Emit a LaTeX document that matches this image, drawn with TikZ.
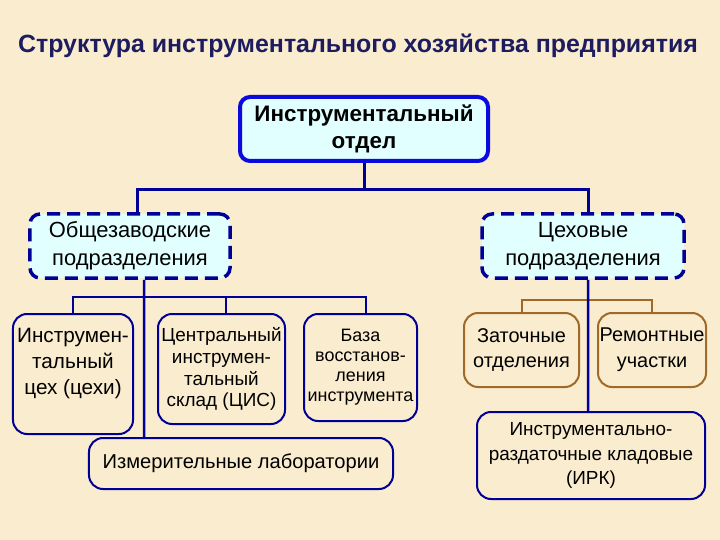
\documentclass[tikz,border=0pt]{standalone}
\usepackage{fontspec}
\setmainfont{Liberation Sans}
\usetikzlibrary{positioning,calc}
\definecolor{bgbeige}{RGB}{250,236,206}
\definecolor{boxcyan}{RGB}{226,255,255}
\definecolor{topblue}{RGB}{10,10,220}
\definecolor{navy}{RGB}{0,0,150}
\definecolor{titlenavy}{RGB}{28,28,95}
\definecolor{brownline}{RGB}{160,105,40}
\begin{document}
\begin{tikzpicture}[x=1bp,y=-1bp,
  topbox/.style={draw=topblue,line width=4bp,fill=boxcyan,rounded corners=10bp,inner sep=0pt,align=center,font=\bfseries\fontsize{22.5}{27}\selectfont},
  dashbox/.style={draw=navy,line width=3.5bp,dash pattern=on 13bp off 7bp,fill=boxcyan,rounded corners=10bp,inner sep=0pt,align=center,font=\fontsize{22}{28}\selectfont},
  unitbox/.style={draw=navy,line width=2bp,rounded corners=14bp,inner sep=0pt,align=center,font=\fontsize{19}{25}\selectfont},
  shopbox/.style={unitbox,draw=brownline,font=\fontsize{20}{26}\selectfont},
  link/.style={draw=navy,line width=2.5bp},
  shoplink/.style={draw=brownline,line width=2bp}
]
  \fill[bgbeige] (0,0) rectangle (720,540);
  \node[text=titlenavy,font=\bfseries\fontsize{25}{30}\selectfont] (title) at (358,46) {Структура инструментального хозяйства предприятия};
  % top level
  \node[topbox,minimum width=248bp,minimum height=64bp] (instdept) at (364,129) {Инструментальный\\отдел};
  \node[dashbox,minimum width=200bp,minimum height=64bp] (plantwide) at (130,246) {Общезаводские\\подразделения};
  \node[dashbox,minimum width=202bp,minimum height=64bp] (shopwide) at (583,246) {Цеховые\\подразделения};
  % plant-wide units
  \node[unitbox,minimum width=120bp,minimum height=120bp,align=none,font=\fontsize{20.8}{26}\selectfont] (toolshop) at (73,374)
    {\begin{tabular}{@{}c@{}}Инструмен-\\тальный\\цех (цехи)\\[22bp]\end{tabular}};
  \node[unitbox,minimum width=127bp,minimum height=110bp,font=\fontsize{19}{22}\selectfont] (cis) at (221.5,369) {Центральный\\инструмен-\\тальный\\склад (ЦИС)};
  \node[unitbox,minimum width=113bp,minimum height=107bp,font=\fontsize{18}{20}\selectfont] (restore) at (360.5,367.5) {База\\восстанов-\\ления\\инструмента};
  \node[unitbox,minimum width=304bp,minimum height=51bp,font=\fontsize{20.2}{25}\selectfont] (measlab) at (241,463.5) {Измерительные лаборатории};
  % shop units
  \node[shopbox,minimum width=115bp,minimum height=74bp] (sharpen) at (521.5,350) {Заточные\\отделения};
  \node[shopbox,minimum width=108bp,minimum height=74bp] (repair) at (652,350) {Ремонтные\\участки};
  \node[unitbox,minimum width=228bp,minimum height=87bp] (irk) at (591,455.5) {Инструментально-\\раздаточные кладовые\\(ИРК)};
  % connectors
  \coordinate (topjoin) at (364,190);
  \coordinate (leftjoin) at (144,297);
  \coordinate (rightjoin) at (588,300);
  \draw[link,line width=3bp] (instdept.south) -- (topjoin);
  \draw[link,line width=3bp] ([xshift=7bp]plantwide.north) |- (topjoin) -| ([xshift=5bp]shopwide.north);
  \draw[link] ([xshift=14bp]plantwide.south) -- ([xshift=-97bp]measlab.north);
  \draw[link] (toolshop.north) |- (leftjoin) -| ([xshift=5.5bp]restore.north);
  \draw[link] ([xshift=4.5bp]cis.north) -- ([xshift=4.5bp]cis.north |- leftjoin);
  \draw[shoplink] (sharpen.north) |- (rightjoin) -| (repair.north);
  \draw[link] ([xshift=5bp]shopwide.south) -- ([xshift=-3bp]irk.north);
\end{tikzpicture}
\end{document}
